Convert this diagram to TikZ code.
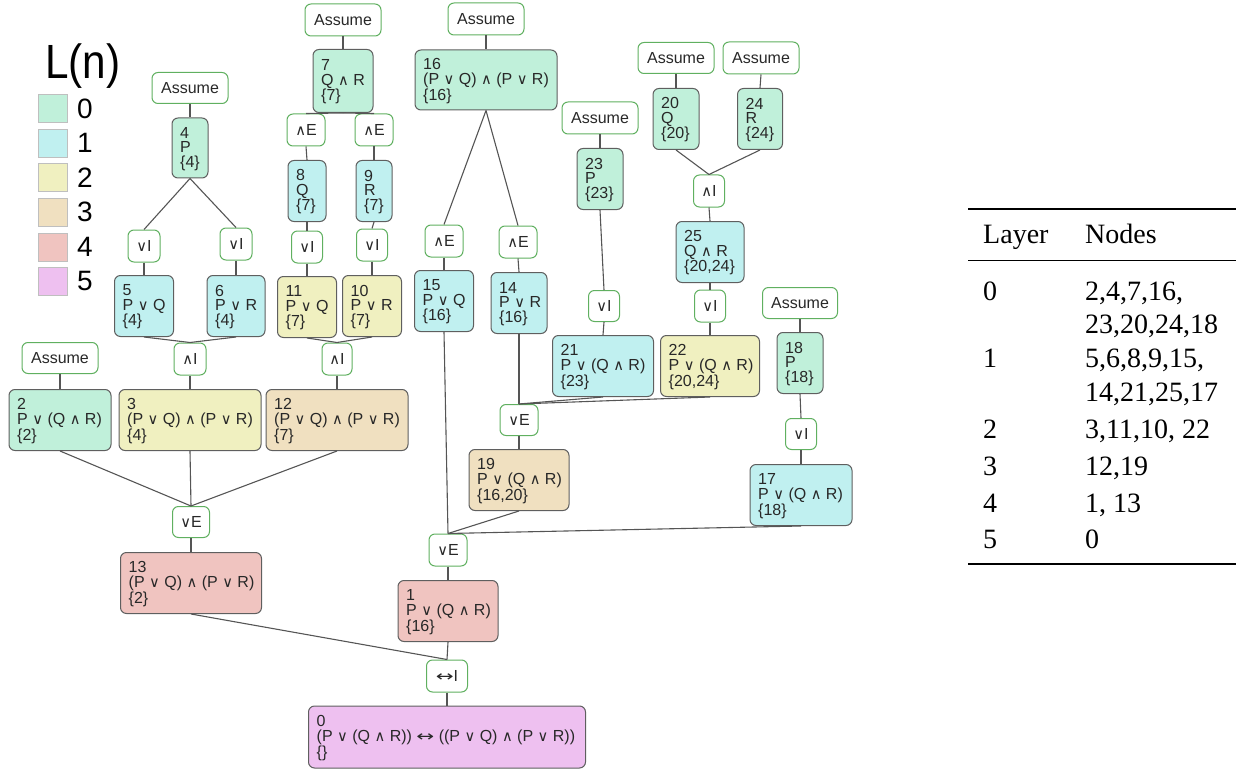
\documentclass[tikz,border=0pt]{standalone}
\usepackage{fontspec}
\setmainfont{Liberation Sans}
\newfontfamily\tnr{Liberation Serif}
\newfontfamily\symf{DejaVu Sans}[Scale=0.92]
\newcommand{\OR}{{\symf ∨}}
\newcommand{\AND}{{\symf ∧}}
\newcommand{\IFF}{\scalebox{1.45}[1]{\symf ↔}}
\definecolor{c0}{RGB}{192,240,218}
\definecolor{c1}{RGB}{192,240,240}
\definecolor{c2}{RGB}{240,240,192}
\definecolor{c3}{RGB}{240,224,192}
\definecolor{c4}{RGB}{240,196,192}
\definecolor{c5}{RGB}{238,192,240}
\definecolor{nborder}{RGB}{95,95,95}
\definecolor{rborder}{RGB}{96,176,96}
\definecolor{edgec}{RGB}{85,85,85}
\definecolor{txtc}{RGB}{40,40,40}
\tikzset{
  pbox/.style={draw=nborder, line width=1pt, rounded corners=6pt, inner sep=0pt},
  ptext/.style={anchor=west, inner sep=0pt, align=left, text=txtc, font=\fontsize{16}{14.5}\selectfont},
  rnode/.style={draw=rborder, fill=white, line width=1pt, rounded corners=6pt, inner sep=0pt,
    text=txtc, font=\fontsize{16}{16}\selectfont},
  conn/.style={draw=edgec, line width=1.1pt},
  legsq/.style={draw=black!25, line width=0.6pt, minimum width=29pt, minimum height=28pt, inner sep=0pt},
  legnum/.style={font=\fontsize{28}{28}\selectfont, anchor=west, inner sep=0pt},
  tabtxt/.style={font=\tnr\fontsize{28}{28}\selectfont, anchor=base west, inner sep=0pt}
}
\newcommand{\pn}[7]{%
  \node[pbox, fill=#6, minimum width=#4pt, minimum height=#5pt] (#1) at (#2,#3) {};
  \node[ptext] (#1t) at ([xshift=8.5pt,yshift=-1pt]#1.west) {#7};}
\newcommand{\rn}[6]{\node[rnode, minimum width=#4pt, minimum height=#5pt] (#1) at (#2,#3) {#6};}
\begin{document}
\begin{tikzpicture}[x=1pt,y=-1pt]
\useasboundingbox (0,0) rectangle (1236,770);
% legend
\node[font=\fontsize{48}{48}\selectfont, inner sep=0pt] (ltitle) at (83,66) {\scalebox{0.88}[1]{L(n)}};
\foreach \i/\c in {0/c0,1/c1,2/c2,3/c3,4/c4,5/c5}{
  \node[legsq, fill=\c] (lsq\i) at (52.5,108.5+34.6*\i) {};
  \node[legnum] (lnum\i) at (77,108.5+34.6*\i) {\i};
}
% rule nodes
\rn{A4}{190}{88}{76}{31}{Assume}
\rn{I5}{144}{246}{32}{32}{\OR I}
\rn{I6}{236}{244}{32}{32}{\OR I}
\rn{A7}{343}{20}{76}{32}{Assume}
\rn{E8}{306}{130}{38}{32}{\AND E}
\rn{E9}{374}{130}{38}{32}{\AND E}
\rn{I11}{307}{247}{31}{32}{\OR I}
\rn{I10}{372}{245}{31}{32}{\OR I}
\rn{A16}{486}{19}{76}{32}{Assume}
\rn{E15}{444}{241}{38}{32}{\AND E}
\rn{E14}{518}{242}{38}{32}{\AND E}
\rn{A23}{600}{118}{76}{32}{Assume}
\rn{A20}{676}{58}{76}{31}{Assume}
\rn{A24}{761}{58}{76}{32}{Assume}
\rn{I25}{709}{191}{31}{32}{\AND I}
\rn{I21}{604}{306}{31}{31}{\OR I}
\rn{I22}{710}{306}{31}{32}{\OR I}
\rn{A18}{800}{303}{75}{31}{Assume}
\rn{E19}{519}{420}{38}{31}{\OR E}
\rn{I17}{801}{434}{31}{31}{\OR I}
\rn{E1}{448}{550}{38}{32}{\OR E}
\rn{A2}{60}{358}{76}{31}{Assume}
\rn{I3}{190}{359}{32}{32}{\AND I}
\rn{I12}{337}{359}{30}{32}{\AND I}
\rn{E13}{191}{522}{37}{31}{\OR E}
\rn{B0}{447}{676}{41}{32}{\IFF I}
% proof nodes
\pn{N4}{190}{148}{36}{60}{c0}{4\\P\\\{4\}}
\pn{N5}{144}{306}{59}{61}{c1}{5\\P \OR{} Q\\\{4\}}
\pn{N6}{236}{306}{58}{61}{c1}{6\\P \OR{} R\\\{4\}}
\pn{N7}{343}{81}{60}{63}{c0}{7\\Q \AND{} R\\\{7\}}
\pn{N8}{307}{191}{38}{61}{c1}{8\\Q\\\{7\}}
\pn{N9}{374}{191}{36}{61}{c1}{9\\R\\\{7\}}
\pn{N11}{307}{307}{59}{61}{c2}{11\\P \OR{} Q\\\{7\}}
\pn{N10}{372}{306}{59}{61}{c2}{10\\P \OR{} R\\\{7\}}
\pn{N16}{486}{80}{142}{60}{c0}{16\\(P \OR{} Q) \AND{} (P \OR{} R)\\\{16\}}
\pn{N15}{444}{301}{59}{61}{c1}{15\\P \OR{} Q\\\{16\}}
\pn{N14}{519}{303}{56}{61}{c1}{14\\P \OR{} R\\\{16\}}
\pn{N23}{600}{179}{46}{61}{c0}{23\\P\\\{23\}}
\pn{N20}{676}{119}{46}{61}{c0}{20\\Q\\\{20\}}
\pn{N24}{760}{119}{45}{61}{c0}{24\\R\\\{24\}}
\pn{N25}{710}{252}{68}{61}{c1}{25\\Q \AND{} R\\\{20,24\}}
\pn{N18}{800}{363}{46}{61}{c0}{18\\P\\\{18\}}
\pn{N21}{603}{366}{101}{61}{c1}{21\\P \OR{} (Q \AND{} R)\\\{23\}}
\pn{N22}{710}{366}{99}{61}{c2}{22\\P \OR{} (Q \AND{} R)\\\{20,24\}}
\pn{N19}{519}{480}{100}{61}{c3}{19\\P \OR{} (Q \AND{} R)\\\{16,20\}}
\pn{N17}{801}{495}{102}{61}{c1}{17\\P \OR{} (Q \AND{} R)\\\{18\}}
\pn{N1}{448}{611}{100}{61}{c4}{1\\P \OR{} (Q \AND{} R)\\\{16\}}
\pn{N2}{60}{420}{102}{61}{c0}{2\\P \OR{} (Q \AND{} R)\\\{2\}}
\pn{N3}{190}{420}{142}{61}{c2}{3\\(P \OR{} Q) \AND{} (P \OR{} R)\\\{4\}}
\pn{N12}{337}{420}{142}{61}{c3}{12\\(P \OR{} Q) \AND{} (P \OR{} R)\\\{7\}}
\pn{N13}{191}{583}{141}{61}{c4}{13\\(P \OR{} Q) \AND{} (P \OR{} R)\\\{2\}}
\pn{N0}{447}{737}{277}{62}{c5}{0\\(P \OR{} (Q \AND{} R)) \IFF{} ((P \OR{} Q) \AND{} (P \OR{} R))\\\{\}}
% connectors
\foreach \a/\b in {A4/N4, N4/I5, N4/I6, I5/N5, I6/N6, N5/I3, N6/I3, I3/N3,
  A7/N7, N7/E8, N7/E9, E8/N8, E9/N9, N8/I11, N9/I10, I11/N11, I10/N10, N11/I12, N10/I12, I12/N12,
  A16/N16, N16/E15, N16/E14, E15/N15, E14/N14,
  A23/N23, N23/I21, I21/N21,
  A20/N20, A24/N24, N20/I25, N24/I25, I25/N25, N25/I22, I22/N22,
  A18/N18, N18/I17, I17/N17,
  N14/E19, N21/E19, N22/E19, E19/N19,
  A2/N2, N2/E13, N3/E13, N12/E13, E13/N13,
  N15/E1, N19/E1, N17/E1, E1/N1,
  N13/B0, N1/B0, B0/N0}{
  \draw[conn] (\a.south) -- (\b.north);
}
% table
\coordinate (tl) at (968,209); \coordinate (tr) at (1236,209);
\coordinate (ml) at (968,260); \coordinate (mr) at (1236,260);
\coordinate (bl) at (968,564); \coordinate (br) at (1236,564);
\draw[line width=1.6pt] (tl) -- (tr);
\draw[line width=1pt] (ml) -- (mr);
\draw[line width=1.6pt] (bl) -- (br);
\node[tabtxt] (hL) at (983,243) {Layer};
\node[tabtxt] (hN) at (1085,243) {Nodes};
\node[tabtxt] (r0a) at (983,300) {0};
\node[tabtxt] (r0b) at (1085,300) {2,4,7,16,};
\node[tabtxt] (r0c) at (1085,333) {23,20,24,18};
\node[tabtxt] (r1a) at (983,367) {1};
\node[tabtxt] (r1b) at (1085,367) {5,6,8,9,15,};
\node[tabtxt] (r1c) at (1085,401) {14,21,25,17};
\node[tabtxt] (r2a) at (983,438) {2};
\node[tabtxt] (r2b) at (1085,438) {3,11,10, 22};
\node[tabtxt] (r3a) at (983,475) {3};
\node[tabtxt] (r3b) at (1085,475) {12,19};
\node[tabtxt] (r4a) at (983,512) {4};
\node[tabtxt] (r4b) at (1085,512) {1, 13};
\node[tabtxt] (r5a) at (983,548) {5};
\node[tabtxt] (r5b) at (1085,548) {0};
\end{tikzpicture}
\end{document}
